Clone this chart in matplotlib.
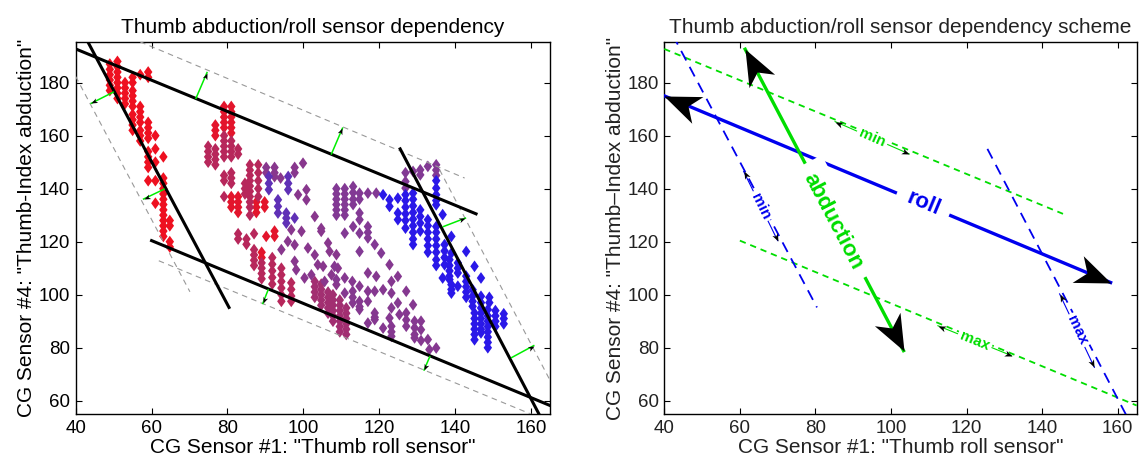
import numpy as np
import matplotlib.pyplot as plt
from matplotlib.colors import LinearSegmentedColormap
from matplotlib.markers import MarkerStyle
from matplotlib.path import Path
from matplotlib.transforms import Affine2D

plt.rcParams['font.family'] = ['Liberation Sans', 'DejaVu Sans']

# ---- samples: (x, [y, ...]) per column ----
red_pts = [
    (49.0, [187, 185, 183, 181, 179, 177]),
    (51.0, [188, 186, 184, 182, 180, 178, 176, 174]),
    (53.0, [180, 178, 176, 174, 172]),
    (55.0, [182, 180, 177, 175, 173, 171, 168, 166, 164, 162]),
    (57.0, [183, 171, 169, 167, 165, 162, 160, 158]),
    (59.1, [184, 182, 165, 163, 161, 159, 154, 152, 150, 148, 143]),
    (61.0, [160, 155, 150, 143, 134.5]),
    (63.1, [152, 144, 142, 140, 138, 136, 134, 132, 130, 128, 126, 124, 122]),
    (64.8, [128, 126, 120, 118]),
]
mid_red_pts = [
    (76.8, [164, 162, 160]),
    (79.1, [171, 169, 167, 165, 163]),
    (81.0, [171, 169, 167, 165, 163, 161, 137, 135, 133]),
    (82.8, [137, 135, 133, 131]),
    (87.6, [135, 133, 131]),
    (89.8, [135, 133]),
    (90.2, [122]),
    (92.4, [124, 122]),
    (89.0, [116, 114]),
]
red_purple_pts = [
    (74.9, [156, 154, 152, 150]),
    (76.8, [155, 153, 151, 149]),
    (79.1, [160, 158, 156, 154, 152, 145, 143, 137]),
    (81.0, [158, 156, 154, 152, 146, 144, 142]),
    (82.8, [155, 153, 123, 121]),
    (84.6, [142, 140, 138]),
    (85.9, [149, 147, 145, 143, 141, 139, 137, 135, 133, 130]),
    (88.1, [149, 146, 143, 140, 137]),
    (85.0, [121, 119]),
    (87.0, [123, 117, 115, 113, 111]),
    (89.0, [112, 110, 108, 106]),
    (91.8, [114, 111.5, 109, 106.5, 104]),
    (94.2, [110, 107.5, 105, 102.5, 100, 97.5]),
    (96.8, [104.5, 102, 99.5, 97.5]),
]
dark_purple_pts = [
    (103.0, [105, 103, 101, 99]),
    (104.7, [104, 102, 100, 98, 96]),
    (106.5, [101, 99, 97, 95, 93]),
    (107.8, [100, 98, 96, 94, 92, 90]),
    (109.6, [98, 96, 94, 92, 90, 88, 86]),
    (111.3, [95, 93, 91, 89, 87, 85]),
]
purple_mid_pts = [
    (90.2, [148, 146]), (92.4, [148, 146, 144.5]), (94.0, [144]),
    (97.7, [148, 146, 118.8, 112.6]), (99.9, [149.6]), (100.8, [139.6, 135.8]),
    (98.6, [137.7]), (103.0, [129.5, 115]), (104.7, [125, 123.9]),
    (99.5, [123.9]), (101.2, [117.6]), (106.5, [119.5]), (106.9, [116.3]),
    (103.8, [111.3]), (105.2, [110.7]), (108.7, [115.1, 103.8]), (109.1, [110]),
    (107.4, [107.5]), (105.6, [105]), (102.1, [107.5]), (100.3, [106.3]),
    (98.1, [109.4]), (95.9, [120.1]), (96.8, [124.5]), (94.2, [117]),
]
purple_low_pts = [
    (108.2, [110.7]), (108.7, [105.7]), (110.9, [106.3, 100.6]), (112.9, [105]),
    (113.0, [101.3, 99, 96.9]), (114.8, [103.2, 97.5, 95.5, 94.4]),
    (117.0, [108.2, 101.3, 97.5, 89.3]), (118.8, [101.3, 93.1, 91.5, 90.6]),
    (119.2, [106.9]), (121.0, [101.9, 87.4]), (122.7, [111.3, 91.2]),
    (123.2, [105, 100.6, 95, 88.1, 86, 84.3]), (124.9, [106.9, 96.9]),
    (125.3, [92.5]), (127.1, [101.3, 93.1, 90.5, 88.1]), (128.9, [96.2]),
    (129.3, [90, 87.5, 85, 83.7]), (131.0, [90, 86.8, 82.7]), (132.8, [83.1]),
    (133.2, [79.3]), (135.0, [79.9]),
]
purple_up_pts = [
    (108.7, [140, 138, 136, 134, 132, 130]),
    (110.9, [140, 138, 136, 134, 132, 130, 123.2]),
    (113.1, [140.8, 138.5, 136, 134, 125.7]),
    (114.8, [138.3, 136, 130.8, 128.3, 123.2, 116.3]),
    (117.0, [138.3, 125.7, 123.5, 121.4]),
    (119.2, [138.3]), (118.8, [118.9]), (120.5, [115.7]),
    (126.9, [146, 142.7, 140.2]), (128.9, [146.5]), (130.8, [147.1, 145.2]),
    (132.8, [148.4]), (135.0, [149, 147, 145]),
]
violet_pts = [
    (90.9, [144.6, 142, 139.6]),
    (93.3, [135.8, 133.3, 130.8]),
    (95.5, [130.8, 128.9, 127]),
    (96.0, [144.6, 142, 139.6]),
    (97.7, [128.9]),
]
blue_pts = [
    (121.0, [137.7]),
    (122.7, [135.8, 133.3]),
    (124.9, [136.4, 130.8, 128.3]),
    (126.9, [137.7, 135.5, 133, 130.5, 128, 125.1]),
    (128.9, [138.3, 136, 133.5, 131, 128.5, 126, 123.5, 121, 118.9]),
    (130.8, [132, 129.5, 127, 124]),
    (132.8, [128.3, 126, 123.5, 121, 118.5, 116]),
    (135.0, [143, 140.2, 137.7, 135.5, 133.9, 125.7, 123.5, 121, 118.5, 116, 113.2, 111]),
    (136.7, [130.2, 106.3]),
    (137.2, [118.9, 116.5, 114, 111.3]),
    (138.5, [113.2, 111, 109, 107, 105.7]),
    (139.0, [122, 115.7, 103.8, 102, 100.6]),
    (140.7, [112, 110, 108.2, 103.2]),
    (142.9, [116.3, 107, 105, 103, 101, 99]),
    (144.6, [101.9, 99.5, 97.5, 95.6]),
    (145.1, [110.7, 93.1, 91, 89, 87, 85, 83]),
    (146.8, [106.3, 99.4, 97, 95, 93, 91, 89, 87, 85.6]),
    (148.6, [94.4, 92, 90, 88, 86, 84, 82, 80]),
    (149.0, [99, 97]),
    (150.6, [94, 92, 90, 88]),
    (152.8, [92.8, 91, 89]),
]
# position of each group on the red -> blue scale
groups = [(red_pts, 0.0), (mid_red_pts, 0.06), (red_purple_pts, 0.3),
          (dark_purple_pts, 0.42), (purple_mid_pts, 0.58), (purple_low_pts, 0.6),
          (purple_up_pts, 0.62), (violet_pts, 0.78), (blue_pts, 1.0)]

# boundary lines (end points)
roll_max = [(40, 192.7), (145.5, 130.5)]
roll_min = [(60, 120.4), (165, 58.2)]
abd_min = [(40, 204.0), (80.4, 95.2)]
abd_max = [(125.5, 155.0), (165, 47.0)]
# offset (dashed grey) lines
off_top = [(40, 205.6), (142.5, 144.0)]
off_bottom = [(61.9, 112.8), (165, 52.0)]
off_left = [(40, 182.3), (70.1, 101.1)]
off_right = [(135.9, 147.1), (165, 67.7)]
# green offset arrows: start on the line, end on the dashed offset
offset_arrows = [
    ((71.7, 174.1), (74.6, 183.8)),
    ((107.4, 153.1), (110.3, 162.8)),
    ((49.9, 176.4), (44.1, 172.2)),
    ((63.3, 139.8), (57.9, 136.1)),
    ((90.7, 101.8), (89.3, 96.7)),
    ((133.3, 76.6), (131.8, 71.6)),
    ((136.9, 125.7), (142.7, 128.9)),
    ((154.9, 76.3), (160.7, 80.8)),
]

# scheme
roll_arrow = [(40, 175.0), (158.1, 104.6)]
abd_arrow = [(61.4, 192.6), (103.3, 78.9)]
roll_label = (108.5, 134.3)
abd_label = (84.5, 127.5)
range_arrows = [
    ('min', '#00dd00', (85.2, 165.3), (104.8, 153.1)),
    ('min', '#0000ee', (61.0, 146.5), (70.0, 120.4)),
    ('max', '#00dd00', (112.4, 88.3), (131.9, 77.0)),
    ('max', '#0000ee', (144.6, 100.3), (153.8, 72.6)),
]

GREEN = '#00dd00'
BLUE = '#0000ee'
cmap = LinearSegmentedColormap.from_list('rb', ['#ee1020', '#b02a62', '#7a3c9c', '#2a18e8'])

head_path = Path([(0, 0), (-1, 0.4), (-0.72, 0), (-1, -0.4), (0, 0)],
                 [Path.MOVETO, Path.LINETO, Path.LINETO, Path.LINETO, Path.CLOSEPOLY])
diamond = MarkerStyle('D', transform=Affine2D().scale(0.72, 1.0))


def screen_angle(ax, p0, p1):
    a, b = ax.transData.transform([p0, p1])
    return np.degrees(np.arctan2(b[1] - a[1], b[0] - a[0]))


def head(ax, p0, p1, size):
    m = MarkerStyle(head_path, transform=Affine2D().rotate_deg(screen_angle(ax, p0, p1)))
    ax.plot([p1[0]], [p1[1]], linestyle='none', marker=m, markersize=size,
            color='k', markeredgewidth=0, zorder=7, clip_on=False)


def seg(ax, pts, **kw):
    ax.plot([pts[0][0], pts[1][0]], [pts[0][1], pts[1][1]], **kw)


fig = plt.figure(figsize=(11.4, 4.62), dpi=100)
ax1 = fig.add_axes([0.0664, 0.1039, 0.4161, 0.8045])
ax2 = fig.add_axes([0.5827, 0.1039, 0.4144, 0.8045])

for ax in (ax1, ax2):
    ax.set_xlim(40, 165)
    ax.set_ylim(55, 195.2)
    ax.set_xticks(np.arange(40, 161, 20))
    ax.set_yticks(np.arange(60, 181, 20))
    ax.tick_params(direction='in', top=True, right=True, length=4, width=0.8,
                   labelsize=13.5, pad=4)
    for s in ax.spines.values():
        s.set_linewidth(1.0)

# ---- left: measured data ----
for pts, t in groups:
    xs = [x for x, ys in pts for _ in ys]
    ys = [y for _, col in pts for y in col]
    ax1.scatter(xs, ys, marker=diamond, s=36, color=cmap(t), edgecolors='none', zorder=2)

for line in (off_top, off_bottom, off_left, off_right):
    seg(ax1, line, color='#999999', lw=0.8, dashes=(5, 4), zorder=3)
for line in (roll_max, roll_min, abd_min, abd_max):
    seg(ax1, line, color='k', lw=2.2, zorder=4)
for p0, p1 in offset_arrows:
    seg(ax1, (p0, p1), color='#00ee00', lw=1.1, zorder=5)
    head(ax1, p0, p1, 9)

ax1.set_title('Thumb abduction/roll sensor dependency', fontsize=15, pad=7)
ax1.set_xlabel('CG Sensor #1: "Thumb roll sensor"', fontsize=15, labelpad=1)
ax1.set_ylabel('CG Sensor #4: "Thumb-Index abduction"', fontsize=15, labelpad=2)

# ---- right: scheme ----
dash_kw = dict(lw=1.3, zorder=4.5)
seg(ax2, roll_max, color=GREEN, dashes=(3.5, 2.7), **dash_kw)
seg(ax2, roll_min, color=GREEN, dashes=(3.5, 2.7), **dash_kw)
seg(ax2, abd_min, color=BLUE, dashes=(6, 4), **dash_kw)
seg(ax2, abd_max, color=BLUE, dashes=(6, 4), **dash_kw)

seg(ax2, roll_arrow, color=BLUE, lw=2.4, zorder=3)
head(ax2, roll_arrow[1], roll_arrow[0], 52)
head(ax2, roll_arrow[0], roll_arrow[1], 52)
seg(ax2, abd_arrow, color=GREEN, lw=2.4, zorder=3)
head(ax2, abd_arrow[1], abd_arrow[0], 52)
head(ax2, abd_arrow[0], abd_arrow[1], 52)

ax2.text(*roll_label, 'roll', color=BLUE, fontsize=16, fontweight='bold',
         rotation=screen_angle(ax2, *roll_arrow), rotation_mode='anchor',
         ha='center', va='center', zorder=4,
         bbox=dict(facecolor='white', edgecolor='none', pad=8))
ax2.text(*abd_label, 'abduction', color=GREEN, fontsize=16, fontweight='bold',
         rotation=screen_angle(ax2, *abd_arrow), rotation_mode='anchor',
         ha='center', va='center', zorder=4,
         bbox=dict(facecolor='white', edgecolor='none', pad=8))

for label, col, p0, p1 in range_arrows:
    seg(ax2, (p0, p1), color=col, lw=0.8, zorder=5)
    head(ax2, p1, p0, 11)
    head(ax2, p0, p1, 11)
    mid = ((p0[0] + p1[0]) / 2, (p0[1] + p1[1]) / 2)
    ax2.text(*mid, label, color=col, fontsize=11, fontweight='bold',
             rotation=screen_angle(ax2, p0, p1), rotation_mode='anchor',
             ha='center', va='center', zorder=6,
             bbox=dict(facecolor='white', edgecolor='none', pad=2))

ax2.set_title('Thumb abduction/roll sensor dependency scheme', fontsize=15, pad=7,
              color='#222222')
ax2.set_xlabel('CG Sensor #1: "Thumb roll sensor"', fontsize=15, labelpad=1,
               color='#222222')
ax2.set_ylabel('CG Sensor #4: "Thumb\u2013Index abduction"', fontsize=15, labelpad=2,
               color='#222222')
ax2.tick_params(labelcolor='#222222')

fig.savefig('out.png', dpi=100)
